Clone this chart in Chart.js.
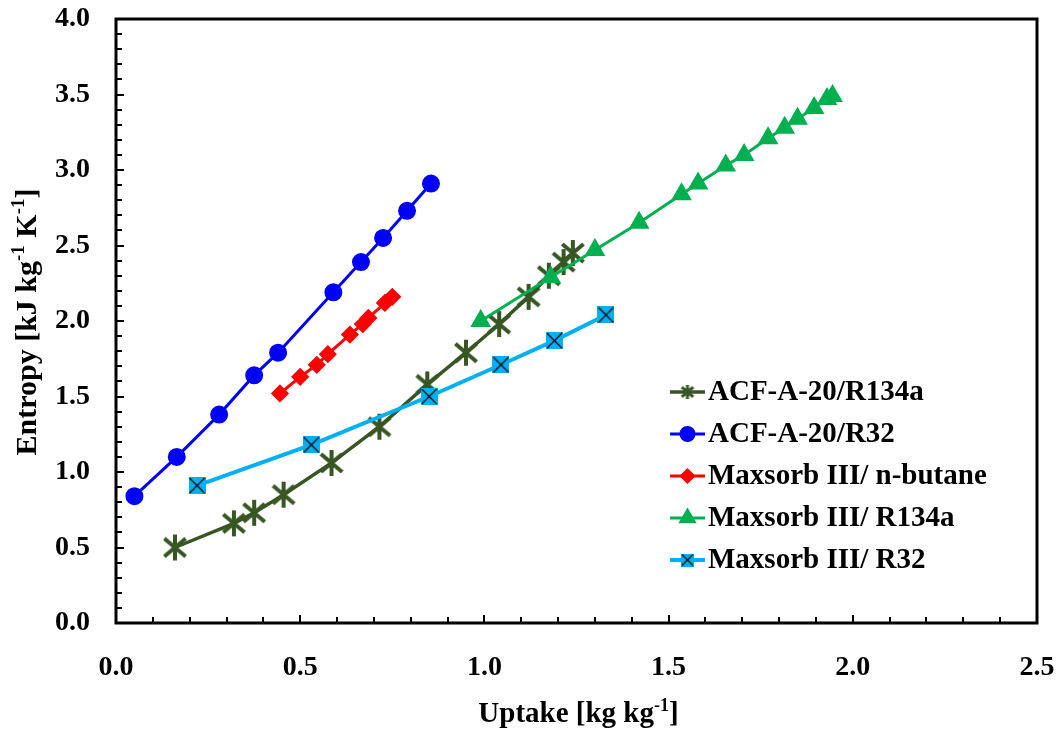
<!DOCTYPE html>
<html>
<head>
<meta charset="utf-8">
<script src="https://cdn.jsdelivr.net/npm/chart.js@4.4.1/dist/chart.umd.min.js"></script>
<style>
    html, body { margin: 0; padding: 0; background: #fff; }
    #wrap { width: 1062px; height: 731px; position: relative; }
</style>
</head>
<body>
<div id="wrap"><canvas id="chart-entropy"></canvas></div>
<script>
// values: uptake [kg/kg] vs entropy [kJ/kg K]
const acfR134aUptake = [0.16, 0.32, 0.375, 0.455, 0.585, 0.715, 0.845, 0.95, 1.04, 1.12, 1.175, 1.215, 1.24];
const acfR134aEntropy = [0.50, 0.66, 0.73, 0.85, 1.06, 1.30, 1.58, 1.79, 1.98, 2.16, 2.30, 2.39, 2.45];

const acfR32Uptake = [0.05, 0.165, 0.28, 0.375, 0.44, 0.59, 0.665, 0.725, 0.79, 0.855];
const acfR32Entropy = [0.84, 1.10, 1.38, 1.64, 1.79, 2.19, 2.39, 2.55, 2.73, 2.91];

const maxButaneUptake = [0.445, 0.50, 0.545, 0.575, 0.635, 0.67, 0.685, 0.73, 0.75];
const maxButaneEntropy = [1.52, 1.63, 1.71, 1.78, 1.91, 1.98, 2.02, 2.12, 2.16];

const maxR134aUptake = [0.99, 1.18, 1.30, 1.42, 1.535, 1.58, 1.655, 1.705, 1.77, 1.815, 1.85, 1.895, 1.93, 1.945];
const maxR134aEntropy = [2.00, 2.29, 2.47, 2.65, 2.84, 2.91, 3.03, 3.10, 3.21, 3.28, 3.34, 3.41, 3.47, 3.49];

const maxR32Uptake = [0.22, 0.53, 0.85, 1.045, 1.19, 1.33];
const maxR32Entropy = [0.91, 1.18, 1.50, 1.71, 1.87, 2.04];

const seriesNames = [
    'ACF-A-20/R134a',
    'ACF-A-20/R32',
    'Maxsorb III/ n-butane',
    'Maxsorb III/ R134a',
    'Maxsorb III/ R32'
];

const xTicks = [0, 0.5, 1.0, 1.5, 2.0, 2.5];
const yTicks = [0, 0.5, 1.0, 1.5, 2.0, 2.5, 3.0, 3.5, 4.0];

const FONT = "'Liberation Serif', 'Times New Roman', serif";
const darkGreen = '#375623';
const blue = '#0000FF';
const red = '#FF0000';
const green = '#00B050';
const lightBlue = '#00B0F0';

function toPoints(xs, ys) {
    return xs.map((x, i) => ({ x: x, y: ys[i] }));
}

// asterisk marker (vertical bar + X), like the spreadsheet "*" marker
function makeAsterisk(size, lw, color) {
    const c = document.createElement('canvas');
    c.width = size; c.height = size;
    const g = c.getContext('2d');
    const m = size / 2, r = size / 2 - 1;
    g.strokeStyle = color;
    g.lineWidth = lw;
    g.beginPath();
    g.moveTo(m, m - r); g.lineTo(m, m + r);
    const d = r * 0.82;
    g.moveTo(m - d, m - d * 0.85); g.lineTo(m + d, m + d * 0.85);
    g.moveTo(m + d, m - d * 0.85); g.lineTo(m - d, m + d * 0.85);
    g.stroke();
    return c;
}

// filled square with a black X
function makeBoxX(size, fill) {
    const c = document.createElement('canvas');
    c.width = size; c.height = size;
    const g = c.getContext('2d');
    g.fillStyle = fill;
    g.fillRect(0, 0, size, size);
    g.strokeStyle = '#000';
    g.lineWidth = 1.2;
    g.beginPath();
    g.moveTo(1, 1); g.lineTo(size - 1, size - 1);
    g.moveTo(size - 1, 1); g.lineTo(1, size - 1);
    g.stroke();
    return c;
}

const asteriskBig = makeAsterisk(28, 4, darkGreen);
const asteriskSmall = makeAsterisk(16, 3, darkGreen);
const boxBig = makeBoxX(17, lightBlue);
const boxSmall = makeBoxX(13, lightBlue);

const datasets = [
    {
        label: seriesNames[0],
        data: toPoints(acfR134aUptake, acfR134aEntropy),
        borderColor: darkGreen, backgroundColor: darkGreen,
        borderWidth: 3.5, pointStyle: asteriskBig, order: 5
    },
    {
        label: seriesNames[1],
        data: toPoints(acfR32Uptake, acfR32Entropy),
        borderColor: blue, backgroundColor: blue,
        borderWidth: 3, pointStyle: 'circle', pointRadius: 7.5, order: 1
    },
    {
        label: seriesNames[2],
        data: toPoints(maxButaneUptake, maxButaneEntropy),
        borderColor: red, backgroundColor: red,
        borderWidth: 3, pointStyle: 'rectRot', pointRadius: 7, order: 2
    },
    {
        label: seriesNames[3],
        data: toPoints(maxR134aUptake, maxR134aEntropy),
        borderColor: green, backgroundColor: green,
        borderWidth: 3, pointStyle: 'triangle', pointRadius: 9, order: 3
    },
    {
        label: seriesNames[4],
        data: toPoints(maxR32Uptake, maxR32Entropy),
        borderColor: lightBlue, backgroundColor: lightBlue,
        borderWidth: 4, pointStyle: boxBig, order: 0
    }
];

const legendMarkers = [
    { pointStyle: asteriskSmall, radius: 6 },
    { pointStyle: 'circle', radius: 6.5 },
    { pointStyle: 'rectRot', radius: 6 },
    { pointStyle: 'triangle', radius: 7.5 },
    { pointStyle: boxSmall, radius: 6 }
];

// text with superscript pieces, centred on (cx, cy)
function drawRich(ctx, parts, cx, cy, size) {
    const supSize = Math.round(size * 0.62);
    let total = 0;
    parts.forEach(p => {
        ctx.font = 'bold ' + (p.sup ? supSize : size) + 'px ' + FONT;
        p.w = ctx.measureText(p.t).width;
        total += p.w;
    });
    let x = cx - total / 2;
    ctx.textBaseline = 'alphabetic';
    ctx.textAlign = 'left';
    parts.forEach(p => {
        ctx.font = 'bold ' + (p.sup ? supSize : size) + 'px ' + FONT;
        ctx.fillText(p.t, x, cy + size * 0.35 - (p.sup ? size * 0.38 : 0));
        x += p.w;
    });
}

const framePlugin = {
    id: 'frameAndTicks',
    afterDraw(chart) {
        const { ctx, chartArea: a, scales: { x, y } } = chart;
        ctx.save();
        ctx.strokeStyle = '#000';
        ctx.lineWidth = 2;
        // inner ticks every 0.1
        for (let i = 0; i <= 25; i++) {
            const px = Math.round(x.getPixelForValue(i / 10));
            const len = i % 5 === 0 ? 8 : 6;
            ctx.beginPath();
            ctx.moveTo(px, a.bottom);
            ctx.lineTo(px, a.bottom - len);
            ctx.stroke();
        }
        for (let i = 0; i <= 40; i++) {
            const py = Math.round(y.getPixelForValue(i / 10));
            const len = i % 5 === 0 ? 8 : 6;
            ctx.beginPath();
            ctx.moveTo(a.left, py);
            ctx.lineTo(a.left + len, py);
            ctx.stroke();
        }
        ctx.lineWidth = 3;
        ctx.strokeRect(a.left, a.top, a.right - a.left, a.bottom - a.top);

        // axis titles
        ctx.fillStyle = '#000';
        drawRich(ctx, [
            { t: 'Uptake [kg kg' }, { t: '-1', sup: true }, { t: ']' }
        ], (a.left + a.right) / 2 + 2, 712, 29);
        ctx.save();
        ctx.translate(25, 322);
        ctx.rotate(-Math.PI / 2);
        drawRich(ctx, [
            { t: 'Entropy [kJ kg' }, { t: '-1', sup: true }, { t: ' K' }, { t: '-1', sup: true }, { t: ']' }
        ], 0, 0, 30);
        ctx.restore();

        // legend inside the plot
        const lx0 = 670, lx1 = 705, top = 392, gap = 42;
        chart.data.datasets.forEach((ds, i) => {
            const ly = top + i * gap;
            ctx.strokeStyle = ds.borderColor;
            ctx.lineWidth = ds.borderWidth;
            ctx.beginPath();
            ctx.moveTo(lx0, ly);
            ctx.lineTo(lx1, ly);
            ctx.stroke();
            const mk = legendMarkers[i];
            ctx.fillStyle = ds.backgroundColor;
            Chart.helpers.drawPoint(ctx, {
                pointStyle: mk.pointStyle, radius: mk.radius, rotation: 0, borderWidth: 1
            }, (lx0 + lx1) / 2, ly);
            ctx.fillStyle = '#000';
            ctx.font = 'bold 29px ' + FONT;
            ctx.textAlign = 'left';
            ctx.textBaseline = 'middle';
            ctx.fillText(ds.label, lx1 + 3, ly + 1);
        });
        ctx.restore();
    }
};

Chart.defaults.font.family = FONT;
Chart.defaults.color = '#000';

new Chart(document.getElementById('chart-entropy'), {
    type: 'line',
    data: { datasets: datasets },
    options: {
        responsive: true,
        maintainAspectRatio: false,
        animation: false,
        layout: { padding: { left: 0, top: 19, right: 25, bottom: 0 } },
        elements: {
            line: { tension: 0 },
            point: { borderWidth: 1, hoverRadius: 7 }
        },
        scales: {
            x: {
                type: 'linear',
                min: 0, max: 2.5,
                afterBuildTicks: scale => { scale.ticks = xTicks.map(v => ({ value: v })); },
                afterFit: scale => {
                    scale.height = 108;
                    scale.paddingLeft = 0; scale.paddingRight = 0;
                },
                grid: { display: false, drawTicks: false },
                border: { display: false },
                ticks: {
                    padding: 28,
                    font: { size: 28, weight: 'bold' },
                    callback: v => v.toFixed(1)
                }
            },
            y: {
                type: 'linear',
                min: 0, max: 4,
                afterBuildTicks: scale => { scale.ticks = yTicks.map(v => ({ value: v })); },
                afterFit: scale => {
                    scale.width = 116;
                    scale.paddingTop = 0; scale.paddingBottom = 0;
                },
                grid: { display: false, drawTicks: false },
                border: { display: false },
                ticks: {
                    padding: 26,
                    font: { size: 28, weight: 'bold' },
                    callback: v => v.toFixed(1)
                }
            }
        },
        plugins: {
            legend: { display: false },
            tooltip: { enabled: false }
        }
    },
    plugins: [framePlugin]
});
</script>
</body>
</html>
